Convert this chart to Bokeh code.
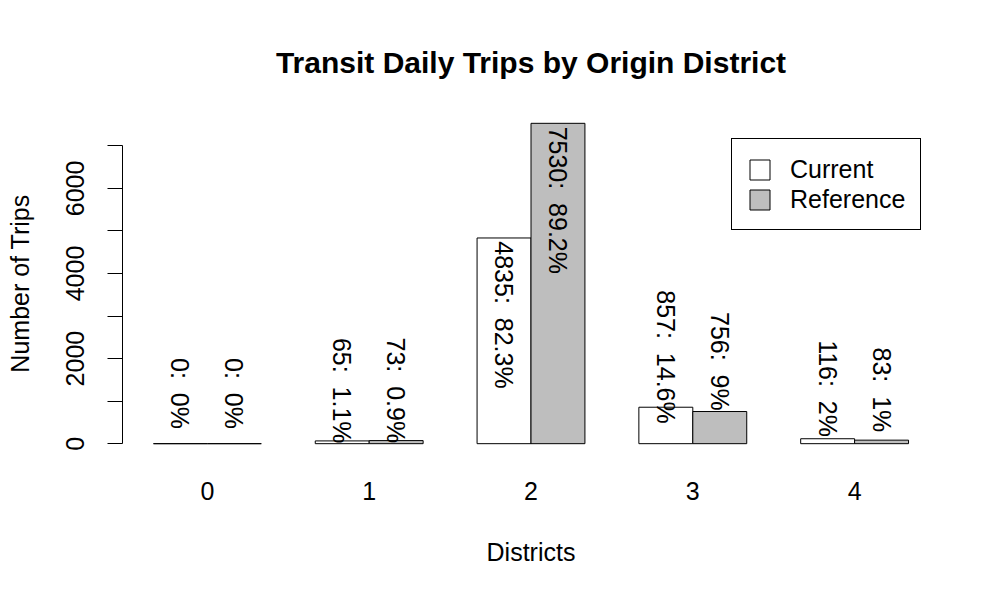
import numpy as np
from bokeh.plotting import figure
from bokeh.models import Range1d, FixedTicker, ColumnDataSource, Legend, LegendItem
from bokeh.embed import file_html
from bokeh.resources import INLINE
from bokeh.core.properties import value

# ---- data ----
districts = ["0", "1", "2", "3", "4"]
current = [0, 65, 4835, 857, 116]
reference = [0, 73, 7530, 756, 83]
series_names = ["Current", "Reference"]
y_ticks = [0, 1000, 2000, 3000, 4000, 5000, 6000, 7000]
y_tick_labels = ["0", "", "2000", "", "4000", "", "6000", ""]

FONT = "Liberation Sans"
FILL = ["white", "#BEBEBE"]

n = len(districts)
idx = np.arange(n)
x_cur = 1.5 + 3 * idx
x_ref = 2.5 + 3 * idx
x_grp = (2 + 3 * idx).tolist()

def pct_labels(vals):
    tot = sum(vals)
    out = []
    for v in vals:
        pv = round(100.0 * v / tot, 1) if tot else 0
        out.append(f"{v}: \u00a0{pv:g}%")
    return out

ymax = max(max(current), max(reference))

def label_y(vals):
    return [v - 1810 if v > 0.5 * ymax else v + 1180 for v in vals]

p = figure(width=984, height=584, output_backend="svg", toolbar_location=None,
           x_range=Range1d(0.426, 15.574), y_range=Range1d(-0.04 * ymax, 1.04 * ymax),
           min_border_left=122, min_border_right=45, min_border_top=110, min_border_bottom=128)

p.grid.visible = False
p.outline_line_color = None

src_c = ColumnDataSource(dict(x=x_cur, top=current, txt=pct_labels(current), ly=label_y(current)))
src_r = ColumnDataSource(dict(x=x_ref, top=reference, txt=pct_labels(reference), ly=label_y(reference)))

r_c = p.vbar(x="x", top="top", bottom=0, width=1.0, source=src_c,
             fill_color=FILL[0], line_color="black", line_width=1)
r_r = p.vbar(x="x", top="top", bottom=0, width=1.0, source=src_r,
             fill_color=FILL[1], line_color="black", line_width=1)

for s in (src_c, src_r):
    p.text(x="x", y="ly", text="txt", source=s, angle=-np.pi / 2,
           text_align="center", text_baseline="middle",
           text_font=value(FONT), text_font_size="25px", text_color="black")

# y axis
ya = p.yaxis[0]
ya.ticker = FixedTicker(ticks=y_ticks)
ya.major_label_overrides = {t: l for t, l in zip(y_ticks, y_tick_labels)}
ya.bounds = (y_ticks[0], y_ticks[-1])
ya.minor_tick_line_color = None
ya.major_tick_out = 15
ya.major_tick_in = 0
ya.major_label_orientation = "vertical"
ya.major_label_standoff = 23
ya.major_label_text_font = FONT
ya.major_label_text_font_size = "25px"
ya.major_label_text_color = "black"
ya.axis_line_color = "black"
ya.major_tick_line_color = "black"
ya.axis_label = "Number of Trips"
ya.axis_label_text_font = FONT
ya.axis_label_text_font_size = "25px"
ya.axis_label_text_font_style = "normal"
ya.axis_label_text_color = "black"
ya.axis_label_standoff = 30

# x axis
xa = p.xaxis[0]
xa.ticker = FixedTicker(ticks=x_grp)
xa.major_label_overrides = {t: d for t, d in zip(x_grp, districts)}
xa.axis_line_color = None
xa.major_tick_line_color = None
xa.minor_tick_line_color = None
xa.major_label_standoff = 19
xa.major_label_text_font = FONT
xa.major_label_text_font_size = "25px"
xa.major_label_text_color = "black"
xa.axis_label = "Districts"
xa.axis_label_text_font = FONT
xa.axis_label_text_font_size = "25px"
xa.axis_label_text_font_style = "normal"
xa.axis_label_text_color = "black"
xa.axis_label_standoff = 35

# title
p.title.text = "Transit Daily Trips by Origin District"
p.title.align = "center"
p.title.text_font = FONT
p.title.text_font_size = "30px"
p.title.text_font_style = "bold"
p.title.text_color = "black"
p.title.standoff = 64

legend = Legend(items=[LegendItem(label=series_names[0], renderers=[r_c]),
                       LegendItem(label=series_names[1], renderers=[r_r])],
                location=(609, 226), orientation="vertical")
legend.border_line_color = "black"
legend.border_line_width = 1
legend.border_line_alpha = 1
legend.background_fill_color = "white"
legend.background_fill_alpha = 1
legend.label_text_font = FONT
legend.label_text_font_size = "25px"
legend.label_text_color = "black"
legend.glyph_width = 25
legend.glyph_height = 25
legend.label_height = 30
legend.label_standoff = 18
legend.spacing = 0
legend.padding = 15
legend.margin = 0
p.add_layout(legend, "center")

open("out.html", "w").write(file_html(p, INLINE))
